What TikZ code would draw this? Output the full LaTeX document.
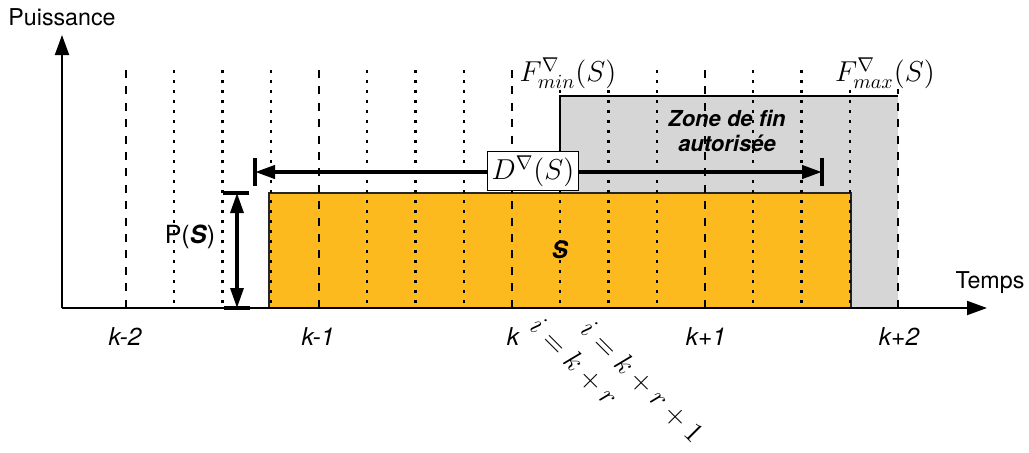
\documentclass[tikz,border=0pt]{standalone}
\usepackage{fontspec}
\setsansfont{TeX Gyre Heros}
\usetikzlibrary{arrows.meta,calc}
\definecolor{slotorange}{RGB}{252,186,30}
\definecolor{zonegray}{RGB}{214,214,214}
\begin{document}
\begin{tikzpicture}[x=0.5pt,y=-0.5pt,
  lab/.style={font=\sffamily\fontsize{11.6}{13}\selectfont, inner sep=0pt},
  klab/.style={inner sep=0pt, font=\sffamily\itshape\fontsize{12.3}{14}\selectfont},
  zlab/.style={inner sep=0pt, align=center, font=\sffamily\bfseries\itshape\fontsize{11}{12.5}\selectfont},
  mlab/.style={inner sep=0pt, font=\fontsize{14}{16}\selectfont},
  dashln/.style={line width=1.1pt, dash pattern=on 4pt off 4.2pt},
  dotln/.style={line width=1.2pt, dash pattern=on 1.5pt off 3.5pt},
  axisln/.style={line width=1pt, -{Triangle[length=10pt,width=7pt]}},
  dimln/.style={line width=2pt, {Triangle[length=10pt,width=6.5pt]}-{Triangle[length=10pt,width=6.5pt]}},
  barln/.style={line width=2pt},
]
\useasboundingbox (0,0) rectangle (1029,452);

% allowed end zone
\fill[zonegray] (560,96) rectangle (898,308);
\draw[line width=0.8pt] (560,308) -- (560,96) -- (898,96);
% slot S
\filldraw[fill=slotorange, draw=black!85, line width=0.8pt] (269,193) rectangle (851,308);

% grid lines
\foreach \i in {0,...,16}{
  \pgfmathsetmacro\xx{126+48.25*\i}
  \ifnum\numexpr\i-4*(\i/4)\relax=0
    \draw[dashln] (\xx,70) -- (\xx,308);
  \else
    \draw[dotln] (\xx,70) -- (\xx,308);
  \fi
}

% axes
\coordinate (O) at (62,308);
\coordinate (ytop) at (62,35);
\coordinate (xend) at (987,308);
\draw[axisln] (O) -- (ytop);
\draw[axisln] (O) -- (xend);
\node[lab] (puis) at (62,17) {Puissance};
\node[lab] (temps) at (990,283) {Temps};

% duration arrow
\coordinate (dL) at (255,172);
\coordinate (dR) at (822,172);
\draw[dimln] (dL) -- (dR);
\draw[barln] ($(dL)+(0,-14)$) -- ($(dL)+(0,14)$);
\draw[barln] ($(dR)+(0,-14)$) -- ($(dR)+(0,14)$);
\node[mlab, draw, fill=white, line width=0.8pt, inner sep=2pt] (dlab) at (533,171) {$D^{\nabla}(S)$};

% power arrow
\coordinate (pT) at (237,193);
\coordinate (pB) at (237,308);
\draw[dimln, line width=1.6pt] (pB) -- (pT);
\draw[barln, line width=1.6pt] ($(pT)+(-14,0)$) -- ($(pT)+(12,0)$);
\draw[barln, line width=1.6pt] ($(pB)+(-13,0)$) -- ($(pB)+(13,0)$);
\node[lab, font=\sffamily\fontsize{12.5}{14}\selectfont] (plab) at (190,237) {P(\textbf{\textit{S}})};

% labels
\node[zlab] (zone) at (727,131) {Zone de fin\\autorisée};
\node[zlab, font=\sffamily\bfseries\itshape\fontsize{12}{14}\selectfont] (slab) at (560,250) {S};
\node[mlab, fill=white] (fmin) at (568,73) {$F^{\nabla}_{min}(S)$};
\node[mlab, fill=white] (fmax) at (885,73) {$F^{\nabla}_{max}(S)$};

\node[klab] (k2) at (125,337) {k-2};
\node[klab] (k1) at (318,337) {k-1};
\node[klab] (k0) at (513,337) {k};
\node[klab] (kp1) at (706,337) {k+1};
\node[klab] (kp2) at (899,337) {k+2};

\node[mlab, rotate=-45] (ir) at (574,362) {$i = k + r$};
\node[mlab, rotate=-45] (ir1) at (642,382) {$i = k + r + 1$};
\end{tikzpicture}
\end{document}
